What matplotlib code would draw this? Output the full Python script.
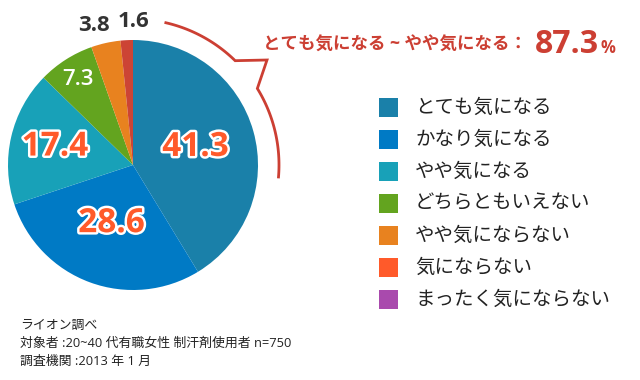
import matplotlib
matplotlib.use('Agg')
import matplotlib.pyplot as plt
import matplotlib.patheffects as pe
from matplotlib.patches import Rectangle
import numpy as np

plt.rcParams['font.family'] = ['Open Sans', 'Noto Sans CJK JP', 'DejaVu Sans']

categories = ['とても気になる', 'かなり気になる', 'やや気になる', 'どちらともいえない',
              'やや気にならない', '気にならない', 'まったく気にならない']
values = [41.3, 28.6, 17.4, 7.3, 3.8, 1.6, 0.0]
value_labels = ['41.3', '28.6', '17.4', '7.3', '3.8', '1.6', '']
legend_colors = ['#1a80a9', '#007ac5', '#18a1b8', '#63a41f', '#e8821f', '#ff5a2a', '#a94aad']
pie_colors = ['#1a80a9', '#007ac5', '#18a1b8', '#63a41f', '#e8821f', '#cc4435', '#a94aad']
total_text = 'とても気になる ~ やや気になる：'
total_value = '87.3'
notes = ['ライオン調べ', '対象者 :20~40 代有職女性 制汗剤使用者 n=750', '調査機関 :2013 年 1 月']

W, H = 640, 380
fig = plt.figure(figsize=(6.4, 3.8), dpi=100)
ax = fig.add_axes([0, 0, 1, 1])

cx, cy, r = 133, H - 165, 125
wedges, _ = ax.pie(values, colors=pie_colors, startangle=90, counterclock=False,
                   center=(cx, cy), radius=r, frame=True)
ax.set_xlim(0, W)
ax.set_ylim(0, H)
ax.axis('off')

# value labels
label_r = [0.52, 0.5, 0.64, 0.81, 1.16, 1.15, 0]
label_style = [
    dict(size=24, color='#ff5a2a', weight='bold', stroke=True),
    dict(size=24, color='#ff5a2a', weight='bold', stroke=True),
    dict(size=24, color='#ff5a2a', weight='bold', stroke=True),
    dict(size=16, color='white', weight='semibold', stroke=False),
    dict(size=16, color='#333333', weight='bold', stroke=False),
    dict(size=16, color='#333333', weight='bold', stroke=False),
]
cum = np.cumsum([0] + values)
for i, st in enumerate(label_style):
    mid = 90 - (cum[i] + values[i] / 2) / 100 * 360
    if i == 4:
        mid += 3
    if i == 5:
        mid -= 3
    a = np.radians(mid)
    x = cx + label_r[i] * r * np.cos(a)
    y = cy + label_r[i] * r * np.sin(a)
    t = ax.text(x, y, value_labels[i], ha='center', va='center', fontsize=st['size'],
                color=st['color'], fontweight=st['weight'])
    if st['stroke']:
        t.set_path_effects([pe.withStroke(linewidth=3.5, foreground='white')])

# callout bracket around the top slices
rc = 146
red = '#cc3f33'
a1 = np.radians(np.linspace(77, 45.6, 30))
a2 = np.radians(np.linspace(31.6, -4.7, 40))
tip = (267, H - 60)
xs = list(cx + rc * np.cos(a1)) + [tip[0]] + list(cx + rc * np.cos(a2))
ys = list(cy + rc * np.sin(a1)) + [tip[1]] + list(cy + rc * np.sin(a2))
ax.plot(xs, ys, color=red, lw=2, solid_joinstyle='miter')

ax.text(263, H - 50, total_text, ha='left', va='baseline', fontsize=12.6,
        color=red, fontweight='bold')
tv = ax.text(535, H - 53, total_value, ha='left', va='baseline', fontsize=23,
             color=red, fontweight='bold')
fig.canvas.draw()
bb = tv.get_window_extent(renderer=fig.canvas.get_renderer())
ax.text(bb.x1 + 1, H - 53, '%', ha='left', va='baseline', fontsize=12,
        color=red, fontweight='bold')

# legend
for i, (lab, col) in enumerate(zip(categories, legend_colors)):
    yc = H - (107.5 + i * 32)
    ax.add_patch(Rectangle((379, yc - 9.5), 19, 19, color=col, lw=0))
    ax.text(415, yc, lab, ha='left', va='center', fontsize=14, color='#222222')

# notes
for i, n in enumerate(notes):
    ax.text(20, H - (325 + i * 18), n, ha='left', va='center', fontsize=9.3,
            color='#222222')

fig.savefig('out.png', dpi=100)
